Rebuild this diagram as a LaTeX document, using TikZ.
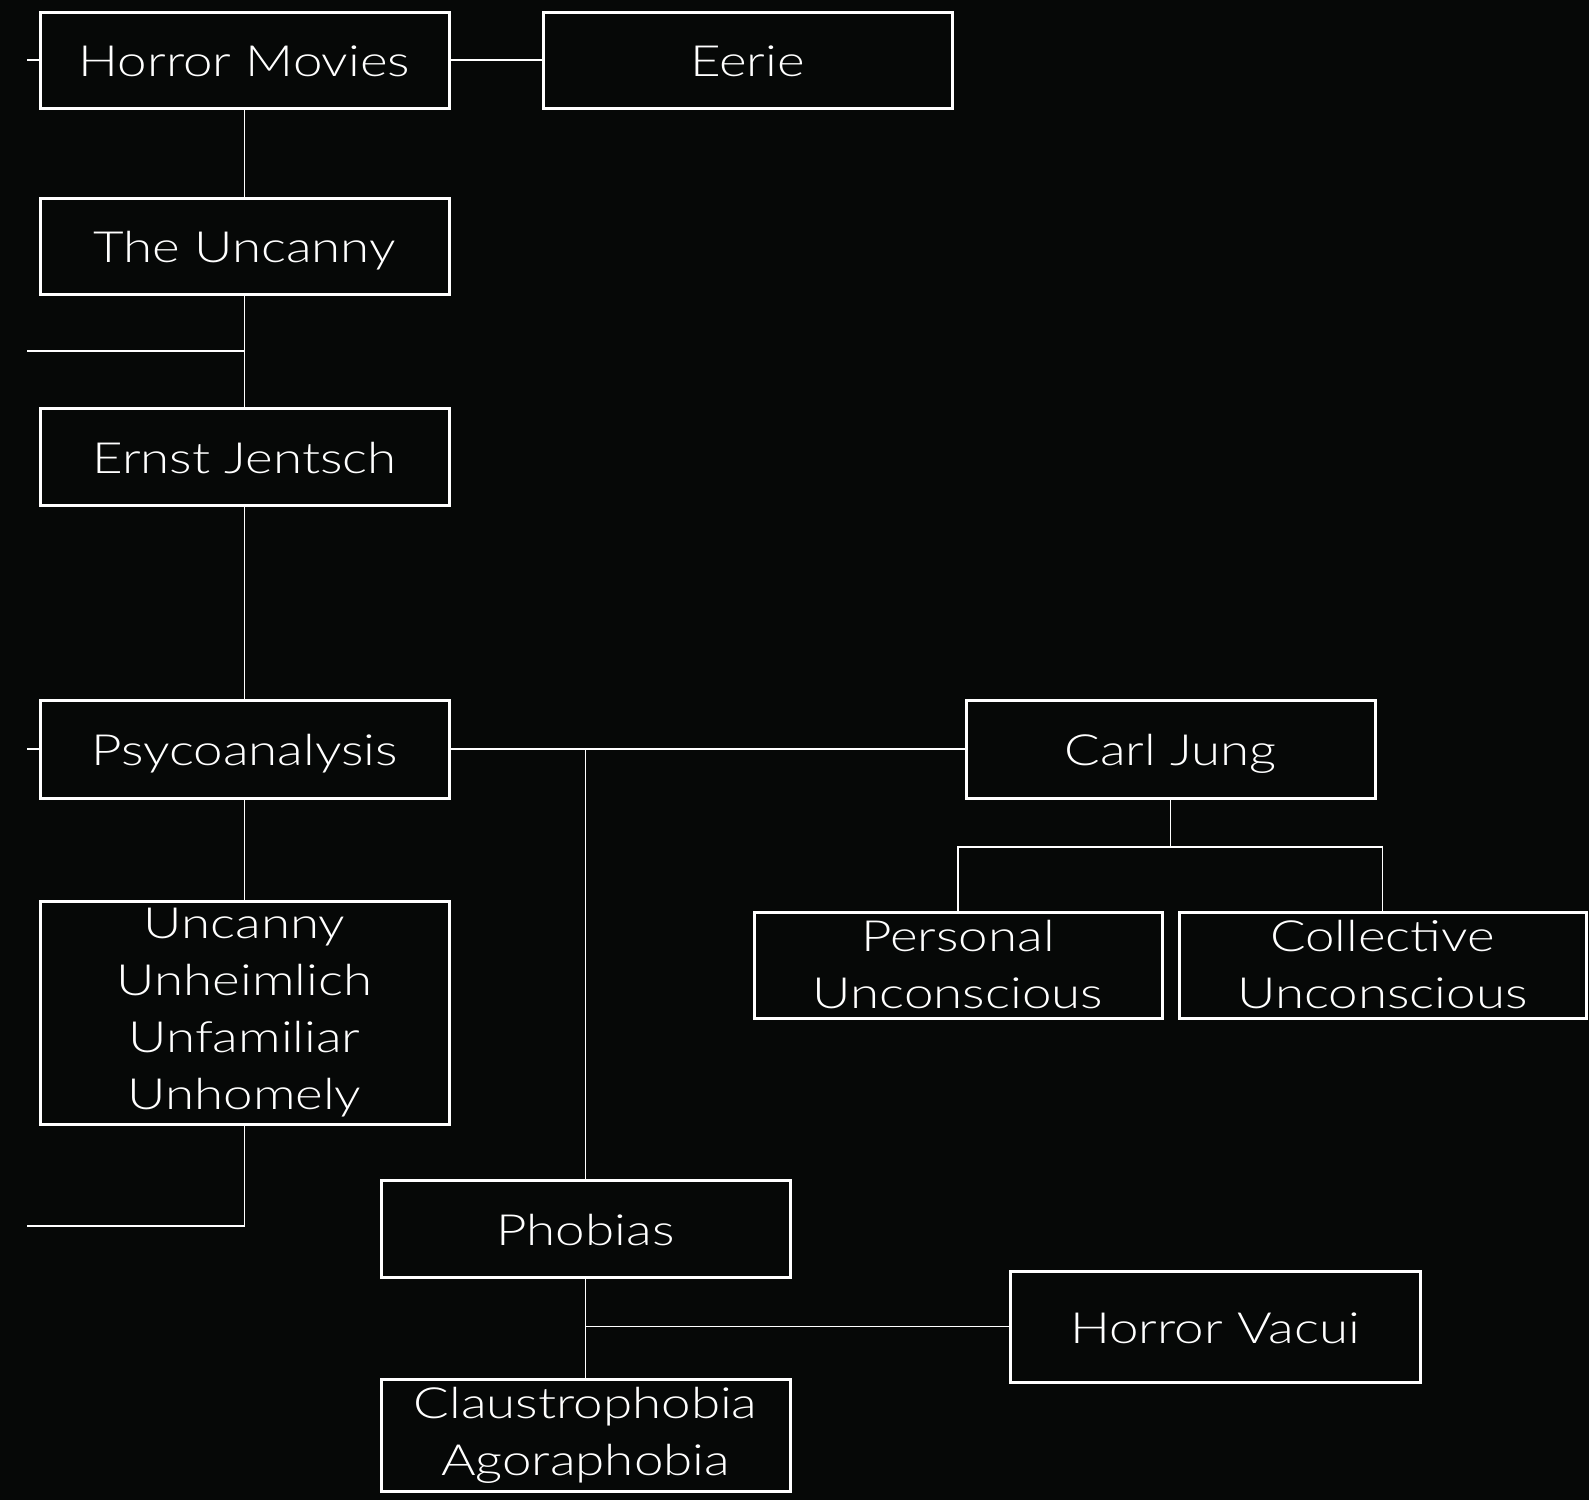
\documentclass[tikz,border=0pt]{standalone}
\usepackage{fontspec}
\setmainfont{Lato}[UprightFont=* Light, FakeStretch=1.23]
\definecolor{bg}{RGB}{6,8,7}
\begin{document}
\begin{tikzpicture}[x=1pt,y=-1pt,
  box/.style={draw=white,line width=3pt,fill=bg,text=white,inner sep=0pt,
    minimum width=409pt,align=center,font=\fontsize{43}{57}\selectfont},
  one/.style={text height=33pt,text depth=0pt},
  conn/.style={draw=white,line width=1.5pt},
  stub/.style={draw=white,line width=2.5pt}]
\fill[bg] (0,0) rectangle (1589,1500);
\useasboundingbox (0,0) rectangle (1589,1500);
% nodes
\node[box,one,minimum height=96pt] (hm) at (244.5,60) {Horror Movies};
\node[box,one,minimum height=96pt] (ee) at (747.5,60) {Eerie};
\node[box,one,minimum height=96pt] (tu) at (244.5,246) {The Uncanny};
\node[box,one,minimum height=97pt] (ej) at (244.5,456.5) {Ernst Jentsch};
\node[box,one,minimum height=98pt] (pa) at (244.5,749) {Psycoanalysis};
\node[box,one,minimum height=98pt] (cj) at (1170.5,749) {Carl Jung};
\node[box,minimum height=106pt,minimum width=408pt] (pu) at (958,965) {Personal\\Unconscious};
\node[box,minimum height=106pt,minimum width=407pt] (cu) at (1382.5,965) {Collective\\Unconscious};
\node[box,minimum height=223pt] (un) at (244.5,1012.5) {Uncanny\\Unheimlich\\Unfamiliar\\Unhomely};
\node[box,one,minimum height=97pt] (ph) at (585.5,1228.5) {Phobias};
\node[box,one,minimum height=111pt,minimum width=410pt] (hv) at (1215,1326.5) {Horror Vacui};
\node[box,minimum height=112pt] (ca) at (585.5,1435) {Claustrophobia\\Agoraphobia};
% free ends
\coordinate (s1) at (27,60);
\coordinate (s2) at (27,351);
\coordinate (s3) at (27,749);
\coordinate (s4) at (27,1226);
\coordinate (jb) at (1170.5,847);
% connectors
\draw[stub] (s1) -- (hm.west);
\draw[conn] (hm.east) -- (ee.west);
\draw[conn] (hm.south) -- (tu.north);
\draw[conn] (tu.south) -- (ej.north);
\draw[conn] (s2) -- (s2 -| tu.south);
\draw[conn] (ej.south) -- (pa.north);
\draw[stub] (s3) -- (pa.west);
\draw[conn] (pa.east) -- (cj.west);
\draw[conn] (ph.north |- pa.east) -- (ph.north);
\draw[conn] (pa.south) -- (un.north);
\draw[conn] (un.south) -- (un.south |- s4) -- (s4);
\draw[conn] (cj.south) -- (jb);
\draw[conn] (pu.north) -- (pu.north |- jb) -- (cu.north |- jb) -- (cu.north);
\draw[conn] (ph.south) -- (ca.north);
\draw[conn] (ph.south |- hv.west) -- (hv.west);
\end{tikzpicture}
\end{document}
